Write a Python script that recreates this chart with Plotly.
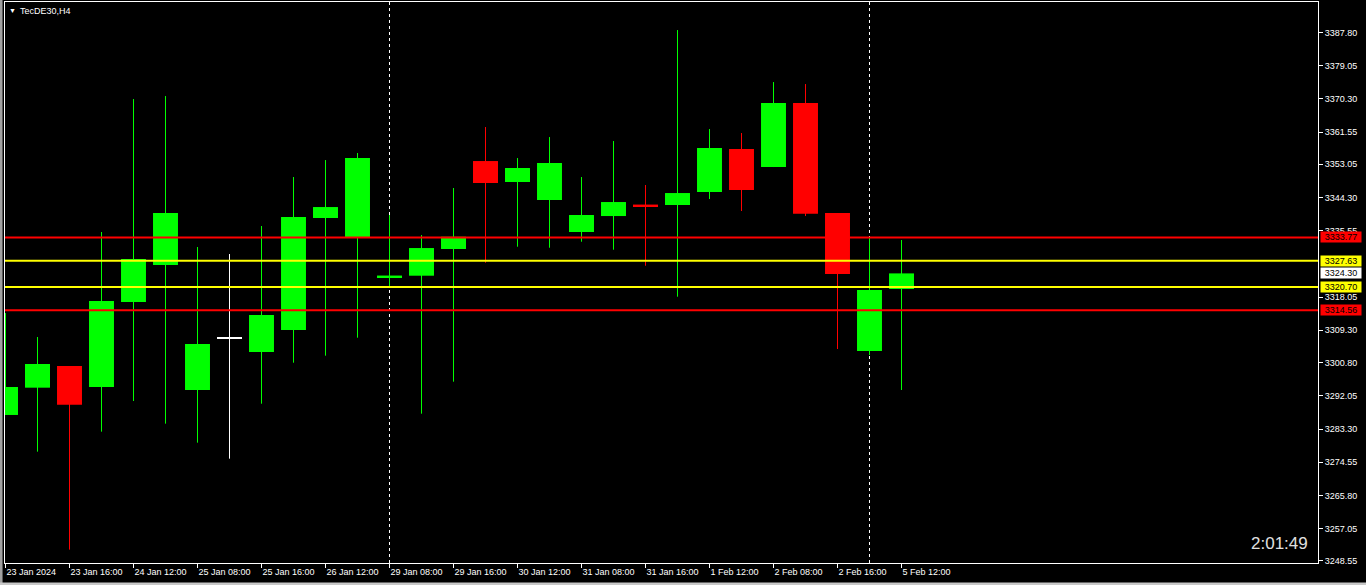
import plotly.graph_objects as go

# H4 bars, 23 Jan 2024 08:00 .. 5 Feb 2024 12:00
opens = [3287.00, 3294.19, 3299.90, 3294.37, 3316.76, 3326.51, 3293.58, 3307.28, 3303.59, 3309.39,
         3338.89, 3333.62, 3323.48, 3323.69, 3330.72, 3353.90, 3348.37, 3343.63, 3335.20, 3339.41,
         3342.44, 3342.31, 3345.73, 3357.06, 3352.32, 3369.18, 3340.20, 3303.85, 3320.19]
highs = [3313.86, 3307.54, 3299.90, 3335.20, 3370.23, 3371.02, 3331.25, 3329.40, 3336.78, 3349.69,
         3354.16, 3356.01, 3339.68, 3334.41, 3346.79, 3362.86, 3354.69, 3360.22, 3349.69, 3359.17,
         3347.58, 3388.41, 3362.33, 3361.28, 3374.71, 3374.18, 3340.20, 3333.62, 3333.09]
lows = [3287.00, 3277.33, 3251.52, 3282.60, 3290.68, 3284.71, 3279.70, 3275.49, 3289.97, 3300.77,
        3302.62, 3307.36, 3320.45, 3287.34, 3295.77, 3327.11, 3331.33, 3331.06, 3332.64, 3330.54,
        3326.32, 3318.16, 3343.89, 3340.73, 3352.32, 3339.41, 3304.38, 3302.80, 3293.58]
closes = [3294.37, 3300.43, 3289.71, 3317.02, 3328.09, 3340.20, 3305.70, 3307.28, 3313.34, 3339.15,
          3341.78, 3354.69, 3323.74, 3330.98, 3333.96, 3348.11, 3352.06, 3353.37, 3339.68, 3343.10,
          3342.18, 3345.47, 3357.32, 3346.26, 3369.18, 3340.02, 3324.14, 3319.92, 3324.30]

# time labels shown every second bar
tick_labels = ["23 Jan 2024", "23 Jan 16:00", "24 Jan 12:00", "25 Jan 08:00", "25 Jan 16:00",
               "26 Jan 12:00", "29 Jan 08:00", "29 Jan 16:00", "30 Jan 12:00", "31 Jan 08:00",
               "31 Jan 16:00", "1 Feb 12:00", "2 Feb 08:00", "2 Feb 16:00", "5 Feb 12:00"]
week_starts = [12, 27]  # first bar of 29 Jan and 5 Feb

# 3326.80 sits fully under the level labels in the terminal, so it is left out
price_ticks = [3387.80, 3379.05, 3370.30, 3361.55, 3353.05, 3344.30, 3335.55, 3318.05,
               3309.30, 3300.80, 3292.05, 3283.30, 3274.55, 3265.80, 3257.05, 3248.55]

levels = [3333.77, 3327.63, 3320.70, 3314.56]
level_colors = ["#ff0000", "#ffff00", "#ffff00", "#ff0000"]

UP, DOWN, DOJI = "#00ff00", "#ff0000", "#ffffff"
FONT = "Liberation Sans"

idx = list(range(len(opens)))
colors = [UP if c > o else DOWN if c < o else DOJI for o, c in zip(opens, closes)]

fig = go.Figure()

# wicks, one trace per colour
for col in (UP, DOWN, DOJI):
    xs, ys = [], []
    for i in idx:
        if colors[i] == col:
            xs += [i, i, None]
            ys += [lows[i], highs[i], None]
    fig.add_trace(go.Scatter(x=xs, y=ys, mode="lines", line=dict(color=col, width=1),
                             hoverinfo="skip", showlegend=False))

# bodies (flat bodies get a thin minimum height so they still show)
fig.add_trace(go.Bar(
    x=idx,
    y=[max(abs(c - o), 0.5) for o, c in zip(opens, closes)],
    base=[min(o, c) - (0.25 if abs(c - o) < 0.5 else 0) for o, c in zip(opens, closes)],
    width=0.78,
    marker=dict(color=colors, line=dict(width=0)),
    showlegend=False,
    hoverinfo="skip",
))

# horizontal levels
for lv, col in zip(levels, level_colors):
    fig.add_hline(y=lv, line=dict(color=col, width=2), layer="above")

# week separators
for k in week_starts:
    fig.add_vline(x=k, line=dict(color="white", width=1, dash="3px,3px"), layer="below")

# price labels on the axis
for lv, col in zip(levels + [closes[-1]], level_colors + ["#ffffff"]):
    fig.add_annotation(x=1, xref="paper", y=lv, yref="y", text=f"{lv:.2f}", showarrow=False,
                       xanchor="left", xshift=2, bgcolor=col, width=40, height=10, borderpad=0,
                       font=dict(family=FONT, size=9, color="black"))

fig.add_annotation(x=0, xref="paper", y=1, yref="paper", text="▼", showarrow=False,
                   xanchor="left", yanchor="top", xshift=2, yshift=-3,
                   font=dict(family=FONT, size=7, color="white"))
fig.add_annotation(x=0, xref="paper", y=1, yref="paper", text="TecDE30,H4", showarrow=False,
                   xanchor="left", yanchor="top", xshift=13, yshift=-2,
                   font=dict(family=FONT, size=9, color="white"))
fig.add_annotation(x=1, xref="paper", y=0, yref="paper", text="2:01:49", showarrow=False,
                   xanchor="right", yanchor="bottom", xshift=-8, yshift=8,
                   font=dict(family=FONT, size=17, color="#e0e0e0"))

# window frame on the left / bottom
fig.add_shape(type="line", xref="paper", yref="paper", x0=-0.003, x1=-0.003, y0=-0.05, y1=1.01,
              line=dict(color="#a0a0a0", width=3))
fig.add_shape(type="line", xref="paper", yref="paper", x0=-0.01, x1=1.04, y0=-0.0375, y1=-0.0375,
              line=dict(color="#c8c8c8", width=3))

fig.update_layout(
    width=1366, height=585,
    margin=dict(l=5, r=48, t=2, b=22, autoexpand=False),
    paper_bgcolor="black", plot_bgcolor="black",
    barmode="overlay",
    font=dict(family=FONT, size=9, color="white"),
    xaxis=dict(
        # 32 px per bar, bar centres on pixel centres
        range=[-0.5 / 32, 1312.5 / 32], showgrid=False, zeroline=False,
        tickvals=idx[::2], ticktext=tick_labels,
        ticks="outside", ticklen=4, tickcolor="white",
        ticklabelposition="outside right",
        showline=True, linecolor="white", linewidth=1, mirror=True,
        tickfont=dict(family=FONT, size=9, color="white"),
    ),
    yaxis=dict(
        range=[3248.0, 3395.8], side="right", showgrid=False, zeroline=False,
        tickvals=price_ticks, ticktext=[f"{v:.2f}" for v in price_ticks],
        ticks="outside", ticklen=4, tickcolor="white",
        showline=True, linecolor="white", linewidth=1, mirror=True,
        tickfont=dict(family=FONT, size=9, color="white"),
    ),
)

# the page's default body margin would shift the 1366x585 figure out of the window
fig.write_html("out.html", config={"displayModeBar": False},
               post_script="document.body.style.margin='0';")
